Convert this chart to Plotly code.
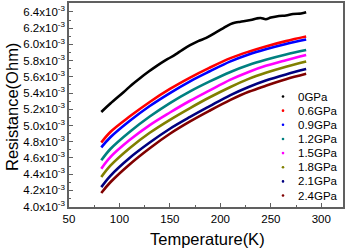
import plotly.graph_objects as go

SCALE = 1e-3  # values below are in units of 1e-3 Ohm

T0 = [82, 91, 104, 112, 120, 129, 137, 145, 150, 156, 162, 170, 178, 186, 196,
      203, 210, 215, 220, 230, 236, 240, 245, 250, 258, 265, 272, 280, 285]
R0 = [5.166, 5.27, 5.41, 5.50, 5.58, 5.665, 5.735, 5.80, 5.835, 5.88, 5.93,
      5.99, 6.04, 6.08, 6.15, 6.20, 6.25, 6.27, 6.28, 6.30, 6.32, 6.325, 6.31, 6.33,
      6.35, 6.355, 6.375, 6.38, 6.395]

T = [82, 91, 110, 130, 150, 170, 189, 210, 228, 245, 265, 285]
R06 = [4.79, 4.92, 5.11, 5.29, 5.45, 5.59, 5.71, 5.83, 5.91, 5.975, 6.04, 6.096]
R09 = [4.73, 4.855, 5.055, 5.24, 5.40, 5.545, 5.665, 5.79, 5.875, 5.94, 6.005, 6.06]
R12 = [4.57, 4.71, 4.92, 5.11, 5.276, 5.42, 5.54, 5.66, 5.745, 5.81, 5.875, 5.93]
R15 = [4.468, 4.61, 4.82, 5.005, 5.16, 5.305, 5.43, 5.565, 5.66, 5.735, 5.805, 5.87]
R18 = [4.365, 4.505, 4.72, 4.91, 5.07, 5.215, 5.345, 5.475, 5.575, 5.65, 5.725, 5.79]
R21 = [4.24, 4.38, 4.60, 4.79, 4.96, 5.105, 5.235, 5.375, 5.475, 5.555, 5.63, 5.695]
R24 = [4.168, 4.30, 4.52, 4.72, 4.898, 5.05, 5.18, 5.315, 5.415, 5.49, 5.57, 5.637]

labels = ["0GPa", "0.6GPa", "0.9GPa", "1.2GPa", "1.5GPa", "1.8GPa", "2.1GPa", "2.4GPa"]
colors = ["#000000", "#FF0000", "#0000FF", "#008080", "#FF00FF", "#808000", "#000080", "#800000"]

xticks = [50, 100, 150, 200, 250, 300]
yticks = [4.0, 4.2, 4.4, 4.6, 4.8, 5.0, 5.2, 5.4, 5.6, 5.8, 6.0, 6.2, 6.4]

series = [(T0, R0)] + [(T, r) for r in [R06, R09, R12, R15, R18, R21, R24]]

fig = go.Figure()
for (tx, ry), name, c in zip(series, labels, colors):
    fig.add_trace(go.Scatter(
        x=tx, y=[v * SCALE for v in ry], mode="lines", name=name,
        line=dict(color=c, width=2.6, shape="spline"),
        showlegend=False, hoverinfo="skip"))

# plot-area geometry in pixels (fixed margins)
L, R, TOP, B = 69, 6, 3, 44
W = 349 - L - R
H = 251 - TOP - B

def px_x(px):
    return (px - L) / W

def px_y(py):
    return (TOP + H - py) / H

# legend drawn as small dots + text (rows are tighter than plotly's legend allows)
row0, rowgap = 96.5, 14.15
for i, (name, c) in enumerate(zip(labels, colors)):
    yp = px_y(row0 + i * rowgap)
    fig.add_shape(type="circle", xref="paper", yref="paper", xsizemode="pixel", ysizemode="pixel",
                  xanchor=px_x(283), yanchor=yp, x0=-1.3, x1=1.3, y0=-1.3, y1=1.3,
                  fillcolor=c, line=dict(width=0))
    fig.add_annotation(xref="paper", yref="paper", x=px_x(296), y=yp, text=name,
                       showarrow=False, xanchor="left", yanchor="middle",
                       font=dict(size=11.5, color="black"))

# axis titles
fig.add_annotation(xref="paper", yref="paper", x=px_x(207), y=px_y(239), text="Temperature(K)",
                   showarrow=False, xanchor="center", yanchor="middle", font=dict(size=16.5))
fig.add_annotation(xref="paper", yref="paper", x=px_x(12), y=px_y(107), text="Resistance(Ohm)",
                   showarrow=False, xanchor="center", yanchor="middle", textangle=-90,
                   font=dict(size=16.5))

axcol = "#606060"
fig.update_layout(
    width=349, height=251,
    margin=dict(l=L, r=R, t=TOP, b=B, autoexpand=False),
    paper_bgcolor="white", plot_bgcolor="white",
    font=dict(family="Liberation Sans, Arial, sans-serif", color="black", size=11),
    showlegend=False,
)
fig.update_xaxes(
    range=[50, 321.5], tickvals=xticks, ticks="inside", ticklen=4, tickcolor=axcol,
    minor=dict(ticks="inside", ticklen=2, dtick=25, tick0=25, tickcolor=axcol),
    showline=True, linecolor=axcol, linewidth=1.5, mirror=True, showgrid=False, zeroline=False,
    tickfont=dict(size=11.5), automargin=False,
)
fig.update_yaxes(
    range=[3.995e-3, 6.51e-3], tickvals=[v * SCALE for v in yticks],
    ticktext=[f"{v:.1f}x10<sup>-3</sup>" for v in yticks],
    ticks="inside", ticklen=4, tickcolor=axcol,
    minor=dict(ticks="inside", ticklen=2, dtick=0.1e-3, tick0=0, tickcolor=axcol),
    showline=True, linecolor=axcol, linewidth=1.5, mirror=True, showgrid=False, zeroline=False,
    tickfont=dict(size=11.5), automargin=False,
)
fig.write_html("out.html", config={"displayModeBar": False},
               post_script="document.body.style.margin='0';document.body.style.overflow='hidden';")
